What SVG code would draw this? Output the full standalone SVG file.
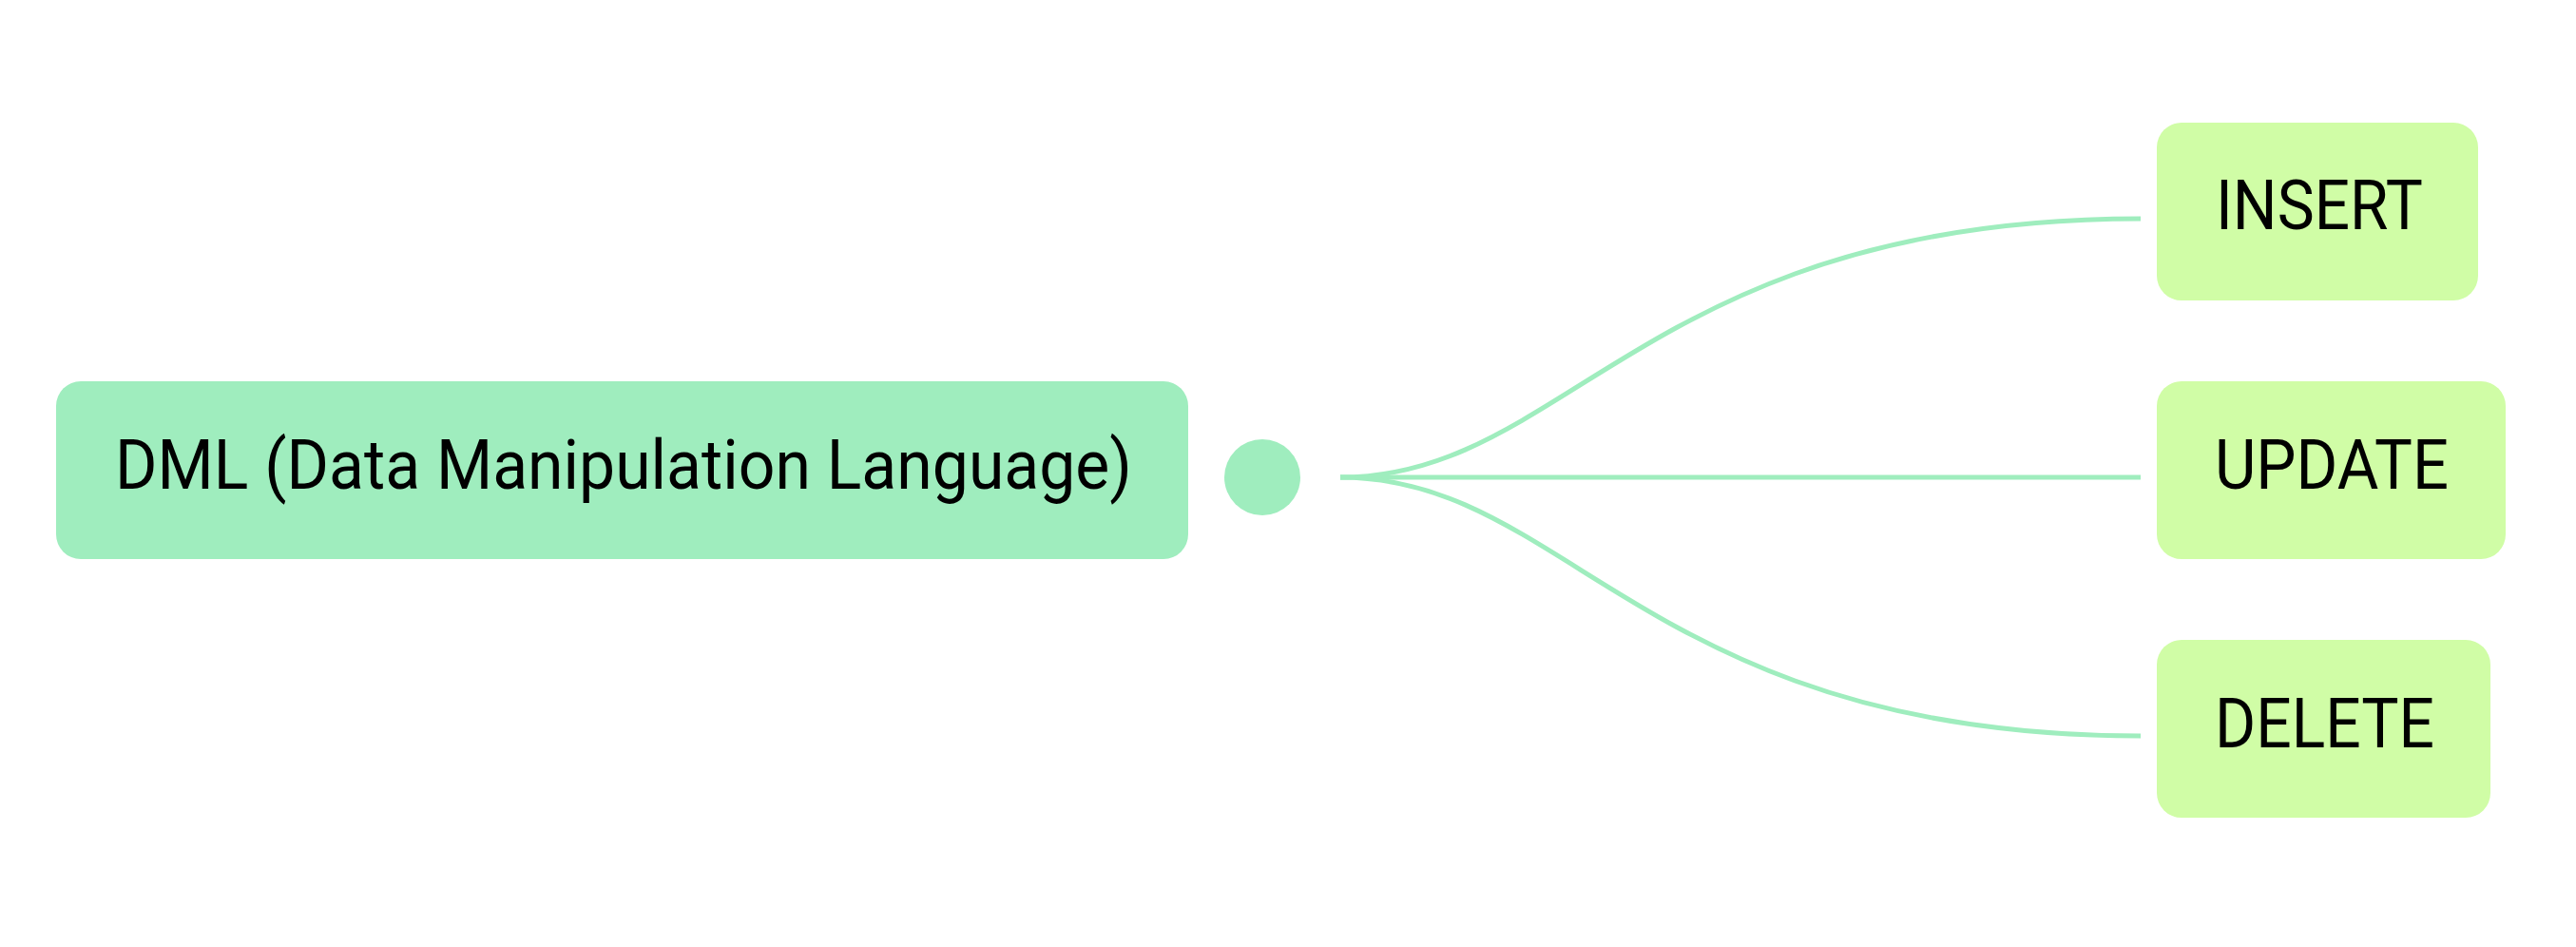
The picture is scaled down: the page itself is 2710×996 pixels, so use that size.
<svg xmlns="http://www.w3.org/2000/svg" width="2710" height="996" viewBox="0 0 2710 996">
  <style>
    .root { fill: #9FEDBE; }
    .leaf { fill: #D0FDA6; }
    .lbl { font-family: Roboto, "Liberation Sans", sans-serif; font-size: 72px; fill: #000000; }
    .edge { fill: none; stroke: #9FEDBE; stroke-width: 5; }
  </style>
  <rect width="2710" height="996" fill="#FFFFFF"/>
  <g id="connectors">
    <path class="edge" d="M1410,502 C1650,502 1732,230 2252,230"/>
    <path class="edge" d="M1410,502 L2252,502"/>
    <path class="edge" d="M1410,502 C1650,502 1732,774 2252,774"/>
  </g>
  <g id="node-dml">
    <rect class="root" x="59" y="401" width="1191" height="187" rx="26" ry="26"/>
    <text class="lbl" x="121" y="514" textLength="1070" lengthAdjust="spacingAndGlyphs">DML (Data Manipulation Language)</text>
  </g>
  <g id="node-junction">
    <circle class="root" cx="1328" cy="502" r="40"/>
  </g>
  <g id="node-insert">
    <rect class="leaf" x="2269" y="129" width="338" height="187" rx="26" ry="26"/>
    <text class="lbl" x="2331" y="241" textLength="218" lengthAdjust="spacingAndGlyphs">INSERT</text>
  </g>
  <g id="node-update">
    <rect class="leaf" x="2269" y="401" width="367" height="187" rx="26" ry="26"/>
    <text class="lbl" x="2330" y="514" textLength="246" lengthAdjust="spacingAndGlyphs">UPDATE</text>
  </g>
  <g id="node-delete">
    <rect class="leaf" x="2269" y="673" width="351" height="187" rx="26" ry="26"/>
    <text class="lbl" x="2330" y="786" textLength="231" lengthAdjust="spacingAndGlyphs">DELETE</text>
  </g>
</svg>
